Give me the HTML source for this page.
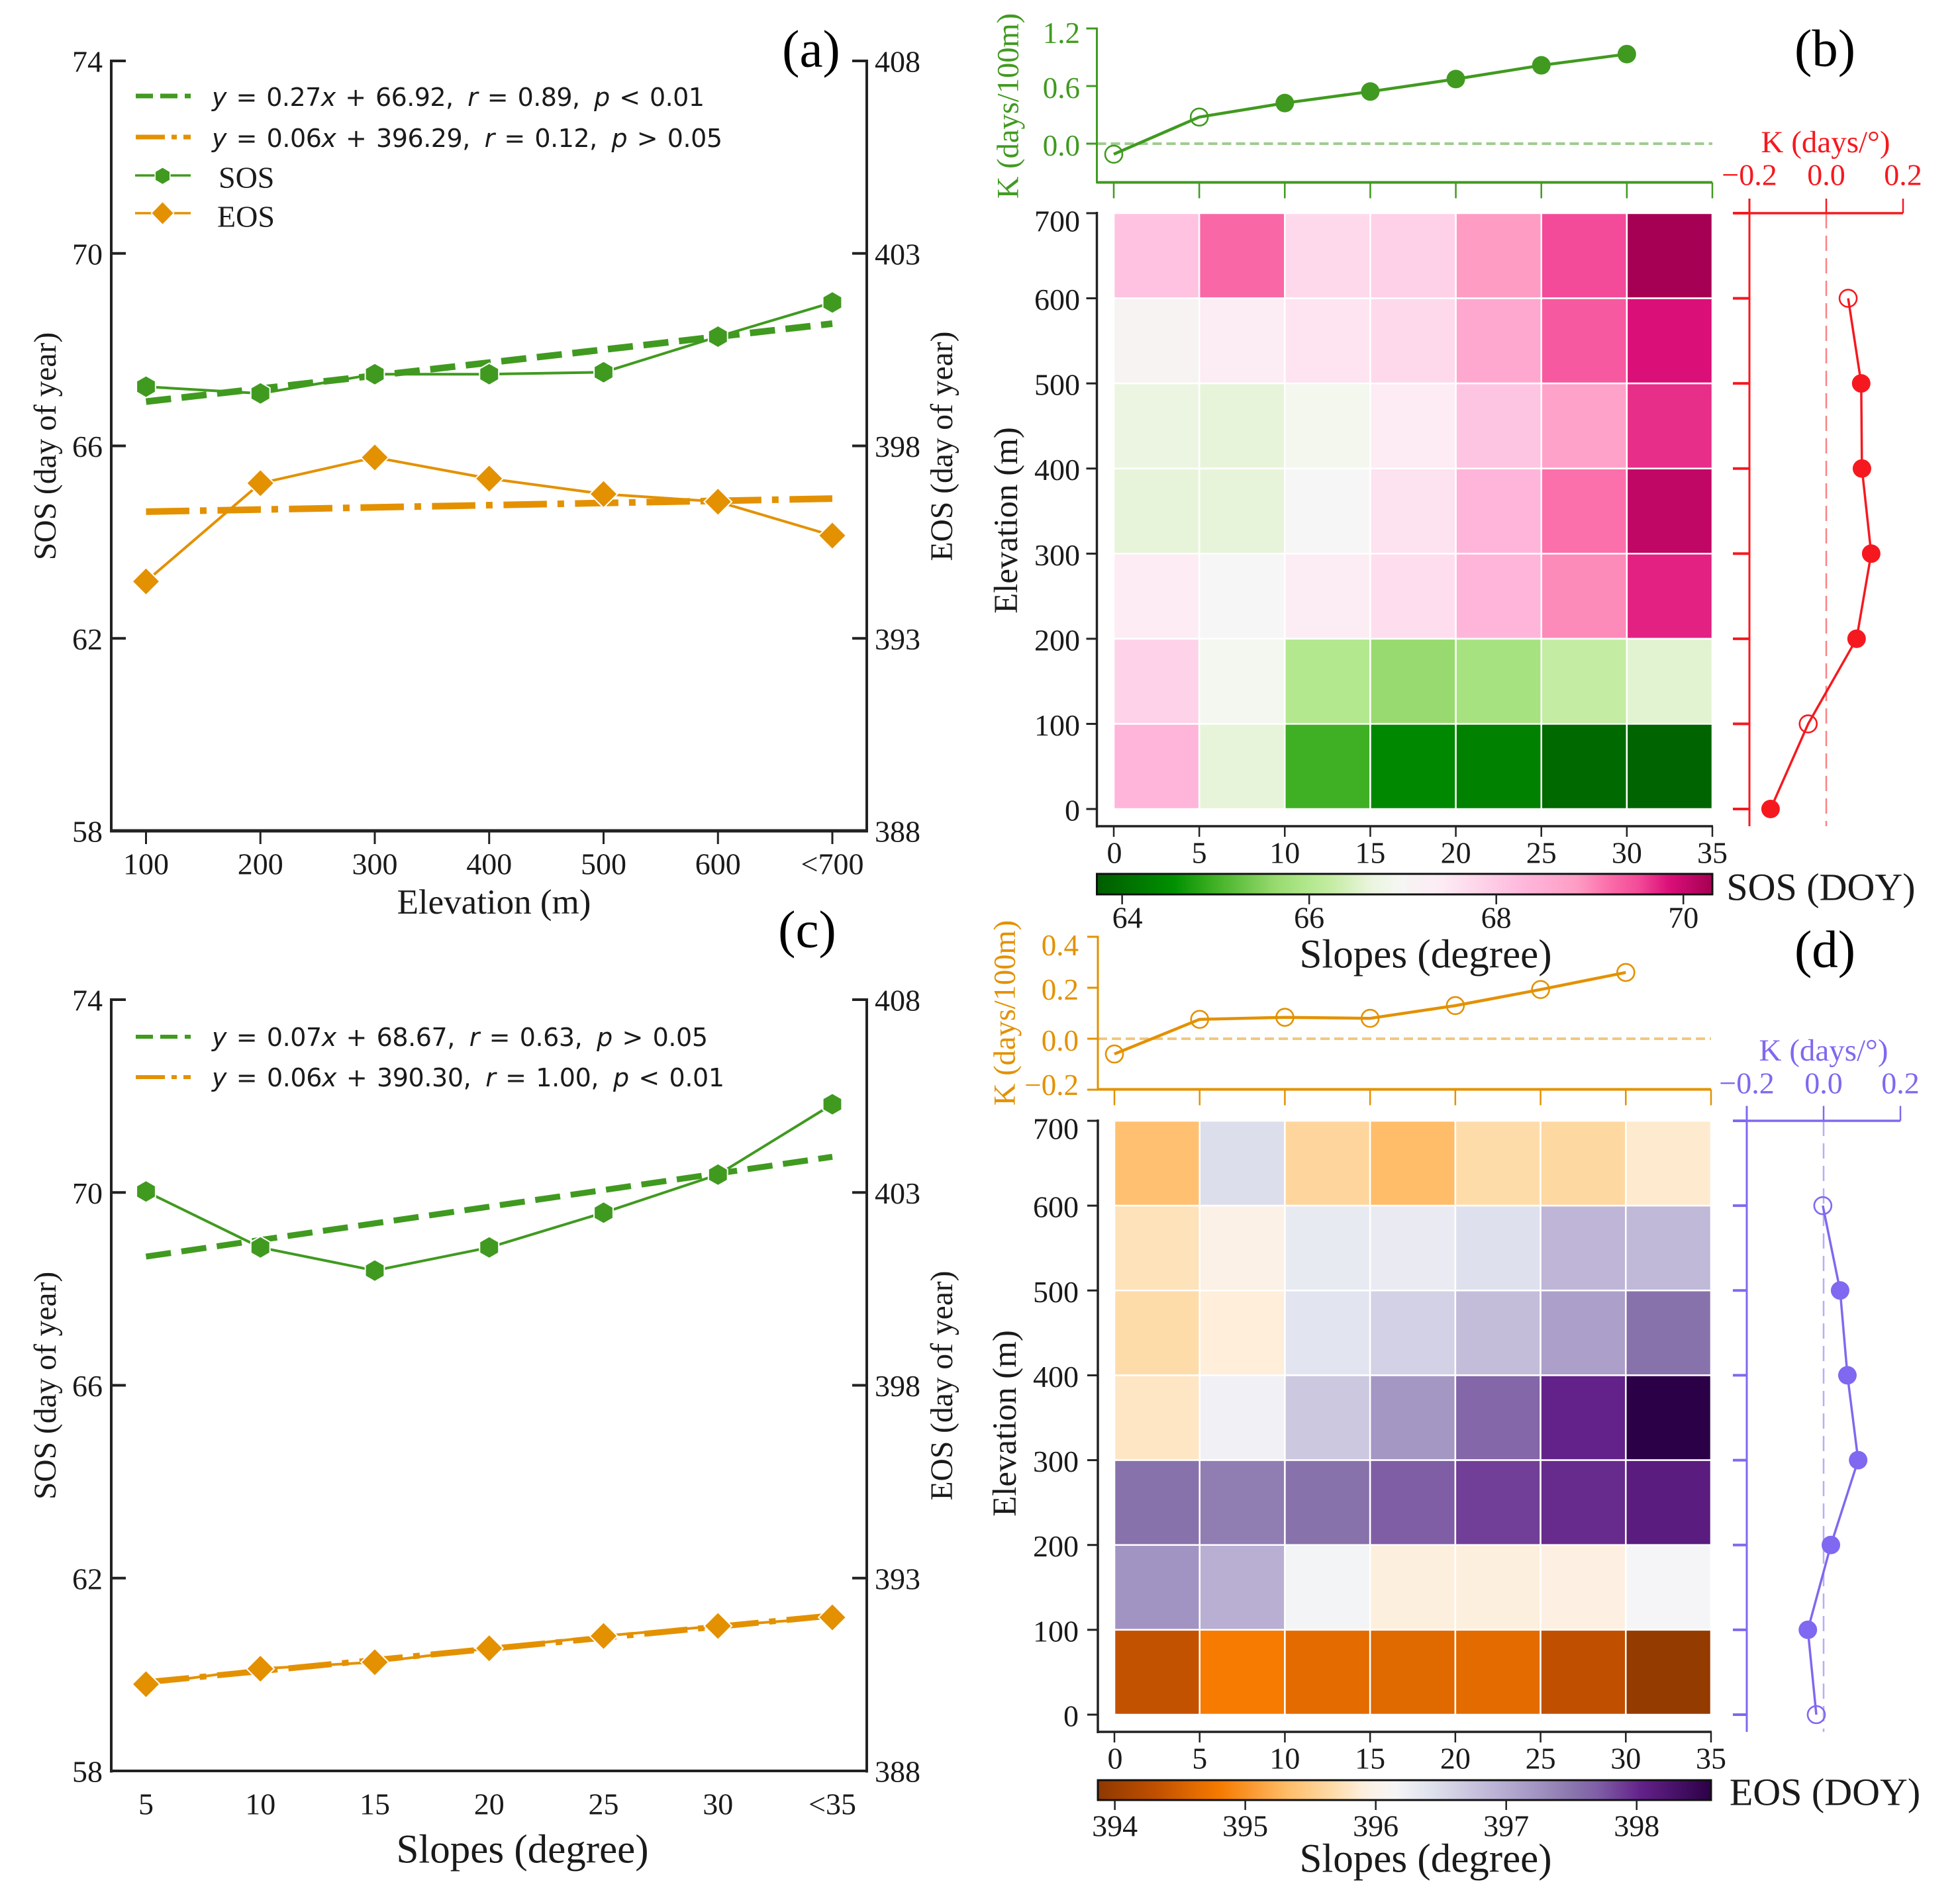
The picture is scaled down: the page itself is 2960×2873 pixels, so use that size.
<!DOCTYPE html>
<html lang="en">
<head>
<meta charset="utf-8">
<title>SOS and EOS versus elevation and slope</title>
<style>
html,body{margin:0;padding:0;background:#fff;}
svg{display:block;}
text{font-family:"Liberation Serif",serif;fill:#1a1a1a;}
.math{font-family:"DejaVu Sans",sans-serif;font-size:38px;word-spacing:3px;}
.it{font-style:italic;}
</style>
</head>
<body>
<svg id="chart" xmlns="http://www.w3.org/2000/svg" width="2960" height="2873" viewBox="0 0 2960 2873">
<defs id="defs"></defs>
<rect x="0" y="0" width="2960" height="2873" fill="#ffffff"/>

<text x="1225" y="75" font-size="79" text-anchor="middle" dominant-baseline="central" style="fill:#000">(a)</text>
<text x="2756" y="74" font-size="79" text-anchor="middle" dominant-baseline="central" style="fill:#000">(b)</text>
<text x="1219" y="1405" font-size="79" text-anchor="middle" dominant-baseline="central" style="fill:#000">(c)</text>
<text x="2756" y="1435" font-size="79" text-anchor="middle" dominant-baseline="central" style="fill:#000">(d)</text>

<text x="746" y="1363" font-size="53" text-anchor="middle" dominant-baseline="central">Elevation (m)</text>
<text x="69" y="674" font-size="47.5" text-anchor="middle" dominant-baseline="central" transform="rotate(-90 69 674)">SOS (day of year)</text>
<text x="1423" y="674" font-size="47.5" text-anchor="middle" dominant-baseline="central" transform="rotate(-90 1423 674)">EOS (day of year)</text>
<text x="789" y="2794" font-size="61" text-anchor="middle" dominant-baseline="central">Slopes (degree)</text>
<text x="69" y="2093" font-size="47.5" text-anchor="middle" dominant-baseline="central" transform="rotate(-90 69 2093)">SOS (day of year)</text>
<text x="1423" y="2093" font-size="47.5" text-anchor="middle" dominant-baseline="central" transform="rotate(-90 1423 2093)">EOS (day of year)</text>

<g>
  <line x1="205" y1="145" x2="288" y2="145" stroke="#409a20" stroke-width="7" stroke-dasharray="26 11"/>
  <text class="math" x="320" y="160" textLength="744"><tspan class="it">y</tspan> = 0.27<tspan class="it">x</tspan> + 66.92,&#160;&#8201;<tspan class="it">r</tspan> = 0.89,&#160;&#8201;<tspan class="it">p</tspan> &lt; 0.01</text>
  <line x1="205" y1="207" x2="288" y2="207" stroke="#e39100" stroke-width="7" stroke-dasharray="44 10 8 10"/>
  <text class="math" x="320" y="222" textLength="771"><tspan class="it">y</tspan> = 0.06<tspan class="it">x</tspan> + 396.29,&#160;&#8201;<tspan class="it">r</tspan> = 0.12,&#160;&#8201;<tspan class="it">p</tspan> &gt; 0.05</text>
  <line x1="204" y1="265" x2="288" y2="265" stroke="#409a20" stroke-width="3.5"/>
  <polygon points="245.5,253.5 256,259.7 256,271.7 245.5,277.9 235,271.7 235,259.7" fill="#409a20" stroke="#ffffff" stroke-width="3" paint-order="stroke"/>
  <text x="330" y="268" font-size="46" dominant-baseline="central">SOS</text>
  <line x1="204" y1="322" x2="288" y2="322" stroke="#e39100" stroke-width="3.5"/>
  <polygon points="245.5,305.5 261.5,322 245.5,338.5 229.5,322" fill="#e39100" stroke="#ffffff" stroke-width="3" paint-order="stroke"/>
  <text x="328" y="327" font-size="46" dominant-baseline="central">EOS</text>
</g>

<g>
  <line x1="205" y1="1566" x2="288" y2="1566" stroke="#409a20" stroke-width="6" stroke-dasharray="26 11"/>
  <text class="math" x="320" y="1580" textLength="749"><tspan class="it">y</tspan> = 0.07<tspan class="it">x</tspan> + 68.67,&#160;&#8201;<tspan class="it">r</tspan> = 0.63,&#160;&#8201;<tspan class="it">p</tspan> &gt; 0.05</text>
  <line x1="205" y1="1627" x2="288" y2="1627" stroke="#e39100" stroke-width="6" stroke-dasharray="44 10 8 10"/>
  <text class="math" x="320" y="1641" textLength="774"><tspan class="it">y</tspan> = 0.06<tspan class="it">x</tspan> + 390.30,&#160;&#8201;<tspan class="it">r</tspan> = 1.00,&#160;&#8201;<tspan class="it">p</tspan> &lt; 0.01</text>
</g>

<text x="1523" y="160" font-size="46.5" text-anchor="middle" dominant-baseline="central" transform="rotate(-90 1523 160)" style="fill:#409a20">K (days/100m)</text>
<text x="1520" y="786" font-size="51" text-anchor="middle" dominant-baseline="central" transform="rotate(-90 1520 786)">Elevation (m)</text>
<text x="2153" y="1442" font-size="61" text-anchor="middle" dominant-baseline="central">Slopes (degree)</text>
<text x="2750" y="1340" font-size="58" text-anchor="middle" dominant-baseline="central">SOS (DOY)</text>
<text x="2757" y="215" font-size="47" text-anchor="middle" dominant-baseline="central" style="fill:#f5191f">K (days/°)</text>

<text x="1518" y="1530" font-size="46.5" text-anchor="middle" dominant-baseline="central" transform="rotate(-90 1518 1530)" style="fill:#e39100">K (days/100m)</text>
<text x="1518" y="2150" font-size="51" text-anchor="middle" dominant-baseline="central" transform="rotate(-90 1518 2150)">Elevation (m)</text>
<text x="2153" y="2808" font-size="61" text-anchor="middle" dominant-baseline="central">Slopes (degree)</text>
<text x="2756" y="2707" font-size="58" text-anchor="middle" dominant-baseline="central">EOS (DOY)</text>
<text x="2754" y="1587" font-size="47" text-anchor="middle" dominant-baseline="central" style="fill:#8068f0">K (days/°)</text>
</svg>

<script>
// ---------- Panel (a): phenology vs elevation ----------
const elevationCategories = ['100','200','300','400','500','600','<700'];
const sosByElevation = [67.23,67.09,67.49,67.49,67.53,68.27,68.98];
const eosByElevation = [394.48,397.03,397.70,397.15,396.75,396.55,395.67];
const sosElevationTrend = [66.92,68.54];
const eosElevationTrend = [396.29,396.63];

// ---------- Panel (c): phenology vs slope ----------
const slopeCategories = ['5','10','15','20','25','30','<35'];
const sosBySlope = [70.02,68.86,68.38,68.86,69.58,70.37,71.83];
const eosBySlope = [390.25,390.65,390.82,391.18,391.50,391.76,391.98];
const sosSlopeTrend = [68.67,70.74];
const eosSlopeTrend = [390.30,392.03];

// ---------- Shared tick labels ----------
const sosTicks = [74,70,66,62,58];
const eosTicks = [408,403,398,393,388];
const slopeBinTicks = [0,5,10,15,20,25,30,35];
const elevationBinTicks = [0,100,200,300,400,500,600,700];
const sideKTicks = [-0.2,0,0.2];

// ---------- Panel (b) ----------
const bTopKTicks = [1.2,0.6,0];
const bTopK = [-0.11,0.277,0.423,0.543,0.673,0.816,0.933];
const bTopSignificant = [false,false,true,true,true,true,true];
const bSideK = [-0.145,-0.047,0.079,0.117,0.093,0.091,0.057];
const bSideSignificant = [true,false,true,true,true,true,false];
const sosHeatValues = [ // rows from elevation 600-700 down to 0-100
  [68.11,69.26,67.74,67.88,68.86,69.52,70.31],
  [67.05,67.35,67.55,67.74,68.60,69.39,69.85],
  [66.72,66.63,66.89,67.41,68.07,68.73,69.68],
  [66.63,66.63,67.02,67.58,68.34,69.19,70.08],
  [67.41,67.02,67.35,67.65,68.34,68.99,69.75],
  [67.84,66.92,66.00,65.64,65.84,66.23,66.56],
  [68.34,66.63,64.98,64.42,64.32,63.93,63.86]
];
const sosColorTicks = [64,66,68,70];
const sosColorDomain = [63.73,70.31];
const sosColorStops = [
  [0,'#005c00'],[0.125,'#009000'],[0.19,'#3fb023'],[0.29,'#98da6f'],[0.345,'#b3e88e'],
  [0.38,'#c4eca3'],[0.44,'#e8f4da'],[0.485,'#f4f7f0'],[0.5,'#f6f6f6'],[0.505,'#f7f3f3'],[0.56,'#fdecf4'],[0.63,'#fed1e8'],
  [0.70,'#ffb5da'],[0.78,'#ff9cc4'],[0.84,'#fa67a6'],[0.88,'#f34b99'],[0.93,'#db0f78'],[1,'#a50053']
];

// ---------- Panel (d) ----------
const dTopKTicks = [0.4,0.2,0,-0.2];
const dTopK = [-0.06,0.076,0.084,0.08,0.13,0.193,0.26];
const dTopSignificant = [false,false,false,false,false,false,false];
const dSideK = [-0.019,-0.041,0.019,0.09,0.062,0.043,-0.002];
const dSideSignificant = [false,true,true,true,true,true,false];
const eosHeatValues = [ // rows from elevation 600-700 down to 0-100
  [395.37,396.46,395.61,395.33,395.68,395.63,395.84],
  [395.75,395.96,396.31,396.29,396.43,396.88,396.85],
  [395.68,395.89,396.38,396.60,396.81,397.11,397.54],
  [395.80,396.20,396.69,397.21,397.63,398.03,398.57],
  [397.54,397.44,397.54,397.70,397.87,397.98,398.12],
  [397.23,396.95,396.17,395.91,395.91,395.94,396.15],
  [394.34,394.81,394.62,394.60,394.62,394.32,393.92]
];
const eosColorTicks = [394,395,396,397,398];
const eosColorDomain = [393.87,398.57];
const eosColorStops = [
  [0,'#8f3800'],[0.095,'#c05000'],[0.16,'#e36b00'],[0.2,'#f67b00'],[0.31,'#ffbd69'],
  [0.385,'#fedcaa'],[0.43,'#feeeda'],[0.445,'#fcf1e6'],[0.485,'#f5f5f7'],[0.545,'#dee1ed'],[0.64,'#bfb6d7'],
  [0.71,'#a497c4'],[0.78,'#8872ab'],[0.815,'#7f5ea6'],[0.885,'#632289'],[1,'#2c0047']
];

// ---------- Helpers ----------
const NS = 'http://www.w3.org/2000/svg';
const svg = document.getElementById('chart');
const defs = document.getElementById('defs');
const INK = '#222222';
const GREEN = '#409a20';
const ORANGE = '#e39100';
const RED = '#f5191f';
const PURPLE = '#8068f0';

function make(parent, tag, attrs, txt) {
  const node = document.createElementNS(NS, tag);
  for (const k in attrs) node.setAttribute(k, attrs[k]);
  if (txt !== undefined) node.textContent = txt;
  parent.appendChild(node);
  return node;
}
function group(name) {
  const g = make(svg, 'g', {});
  
  
  return g;
}
function seg(parent, name, x1, y1, x2, y2, color, width, dash, opacity) {
  const attrs = {x1, y1, x2, y2, stroke: color, 'stroke-width': width};
  if (dash) attrs['stroke-dasharray'] = dash;
  if (opacity) attrs['stroke-opacity'] = opacity;
  const n = make(parent, 'line', attrs);
  
  
  return n;
}
function label(parent, name, x, y, txt, size, color, anchor) {
  const n = make(parent, 'text', {x, y, 'font-size': size, 'text-anchor': anchor || 'middle', 'dominant-baseline': 'central', style: 'fill:' + (color || '#1a1a1a')}, txt);
  
  
  return n;
}
function hexagon(parent, name, cx, cy, r, color) {
  const pts = [];
  for (let i = 0; i < 6; i++) {
    const a = Math.PI / 3 * i + Math.PI / 2;
    pts.push((cx + r * Math.cos(a)).toFixed(1) + ',' + (cy - r * Math.sin(a)).toFixed(1));
  }
  const n = make(parent, 'polygon', {points: pts.join(' '), fill: color, stroke: '#ffffff', 'stroke-width': 4, 'paint-order': 'stroke'});
  
  
  return n;
}
function diamond(parent, name, cx, cy, r, color) {
  const pts = [cx + ',' + (cy - r), (cx + r) + ',' + cy, cx + ',' + (cy + r), (cx - r) + ',' + cy].join(' ');
  const n = make(parent, 'polygon', {points: pts, fill: color, stroke: '#ffffff', 'stroke-width': 4, 'paint-order': 'stroke'});
  
  
  return n;
}
function polyline(parent, name, xs, ys, color, width) {
  const pts = xs.map((x, i) => x.toFixed(1) + ',' + ys[i].toFixed(1)).join(' ');
  const n = make(parent, 'polyline', {points: pts, fill: 'none', stroke: color, 'stroke-width': width, 'stroke-linejoin': 'round'});
  
  
  return n;
}
function dot(parent, name, cx, cy, color, filled) {
  const attrs = filled ? {cx, cy, r: 14, fill: color} : {cx, cy, r: 13, fill: 'none', stroke: color, 'stroke-width': 2.6};
  const n = make(parent, 'circle', attrs);
  
  
  return n;
}
function colorAt(stops, f) {
  f = Math.max(0, Math.min(1, f));
  for (let i = 1; i < stops.length; i++) {
    if (f <= stops[i][0]) {
      const t = (f - stops[i - 1][0]) / (stops[i][0] - stops[i - 1][0]);
      const a = stops[i - 1][1], b = stops[i][1];
      const ch = s => [1, 3, 5].map(p => parseInt(s.substr(p, 2), 16));
      const ca = ch(a), cb = ch(b);
      return 'rgb(' + ca.map((v, j) => Math.round(v + (cb[j] - v) * t)).join(',') + ')';
    }
  }
  return stops[stops.length - 1][1];
}

// ---------- Line panels (a) and (c) ----------
function drawLinePanel(p) {
  const g = group(p.id + '-line-panel');
  const left = 168, right = 1309, n = p.categories.length;
  const xCat = i => 220.5 + i * (1257 - 220.5) / (n - 1);
  const yLeft = v => p.top + (sosTicks[0] - v) * (p.bottom - p.top) / (sosTicks[0] - sosTicks[4]);
  const yRight = v => p.top + (eosTicks[0] - v) * (p.bottom - p.top) / (eosTicks[0] - eosTicks[4]);

  seg(g, p.id + '-left-spine', left, p.top - 2, left, p.bottom + 2.5, INK, 4);
  seg(g, p.id + '-right-spine', right, p.top - 2, right, p.bottom + 2.5, INK, 4);
  seg(g, p.id + '-bottom-spine', left - 2, p.bottom, right + 2, p.bottom, INK, p.bottomWidth);

  sosTicks.forEach(v => {
    seg(g, p.id + '-left-tick-' + v, left, yLeft(v), left + 22, yLeft(v), INK, 4);
    label(g, p.id + '-left-tick-label-' + v, 155, yLeft(v) + 1, String(v), 46, null, 'end');
  });
  eosTicks.forEach(v => {
    seg(g, p.id + '-right-tick-' + v, right - 22, yRight(v), right, yRight(v), INK, 4);
    label(g, p.id + '-right-tick-label-' + v, 1321, yRight(v) + 1, String(v), 46, null, 'start');
  });
  p.categories.forEach((c, i) => {
    if (p.xTicks) seg(g, p.id + '-x-tick-' + c, xCat(i), p.bottom, xCat(i), p.bottom + 20, INK, 3);
    label(g, p.id + '-x-tick-label-' + c, xCat(i), p.bottom + 50, c, 46);
  });

  const xs = p.categories.map((c, i) => xCat(i));
  const ySos = p.sos.map(yLeft), yEos = p.eos.map(yRight);

  polyline(g, p.id + '-sos-line', xs, ySos, GREEN, 4);
  polyline(g, p.id + '-eos-line', xs, yEos, ORANGE, 4);

  seg(g, p.id + '-sos-trend-line', xCat(0), yLeft(p.sosTrend[0]), xCat(n - 1), yLeft(p.sosTrend[1]), GREEN, p.trendWidth, '38 16');
  seg(g, p.id + '-eos-trend-line', xCat(0), yRight(p.eosTrend[0]), xCat(n - 1), yRight(p.eosTrend[1]), ORANGE, p.trendWidth, '65.5 16 10 16.5');

  p.categories.forEach((c, i) => {
    hexagon(g, p.id + '-sos-point-' + c, xs[i], ySos[i], 15.5, GREEN);
    diamond(g, p.id + '-eos-point-' + c, xs[i], yEos[i], 19.5, ORANGE);
  });
}
drawLinePanel({id: 'a', top: 92, bottom: 1255, bottomWidth: 5, xTicks: true, trendWidth: 10, categories: elevationCategories, sos: sosByElevation, eos: eosByElevation, sosTrend: sosElevationTrend, eosTrend: eosElevationTrend});
drawLinePanel({id: 'c', top: 1510, bottom: 2675, bottomWidth: 4, xTicks: false, trendWidth: 9, categories: slopeCategories, sos: sosBySlope, eos: eosBySlope, sosTrend: sosSlopeTrend, eosTrend: eosSlopeTrend});

// ---------- Heatmap panels (b) and (d) ----------
function drawHeatPanel(p) {
  const g = group(p.id + '-heatmap-panel');
  const x0 = p.x0, x35 = p.x35;
  const xS = v => x0 + (v - slopeBinTicks[0]) * (x35 - x0) / (slopeBinTicks[7] - slopeBinTicks[0]);
  const yE = v => p.yZero + (v - elevationBinTicks[0]) * (p.ySeven - p.yZero) / (elevationBinTicks[7] - elevationBinTicks[0]);

  // top K line plot
  const yT = v => p.topZeroY - v * p.topScale;
  seg(g, p.id + '-top-left-spine', p.spine, p.topTickY - 1.5, p.spine, p.topBottom + 1.5, p.topColor, 3);
  seg(g, p.id + '-top-bottom-spine', p.spine, p.topBottom, x35, p.topBottom, p.topColor, 4);
  seg(g, p.id + '-top-zero-line', p.spine, yT(0), x35, yT(0), p.topColor, 4, '14 7', 0.5);
  p.topTicks.forEach((v, i) => {
    const txt = (v < 0 ? '\u2212' : '') + Math.abs(v).toFixed(1);
    const off = (v === p.topTicks[0]) ? p.topFirstOffset : (v < 0 ? -7 : 3);
    seg(g, p.id + '-top-y-tick-' + v, p.spine - 16, yT(v), p.spine, yT(v), p.topColor, 3);
    label(g, p.id + '-top-y-tick-label-' + v, p.labelRight, yT(v) + off, txt, 45, p.topColor, 'end');
  });
  slopeBinTicks.forEach(v => {
    seg(g, p.id + '-top-x-tick-' + v, xS(v), p.topBottom, xS(v), p.topBottom + 24, p.topColor, 2.5);
  });
  const topXs = p.topK.map((k, i) => xS(slopeBinTicks[i]));
  polyline(g, p.id + '-top-k-line', topXs, p.topK.map(yT), p.topColor, 4.5);
  p.topK.forEach((k, i) => {
    dot(g, p.id + '-top-k-point-' + slopeBinTicks[i], topXs[i], yT(k), p.topColor, p.topSig[i]);
  });

  // heat cells
  const f = v => (v - p.domain[0]) / (p.domain[1] - p.domain[0]);
  p.values.forEach((row, r) => {
    const yTopVal = elevationBinTicks[7 - r], yBotVal = elevationBinTicks[6 - r];
    row.forEach((v, c) => {
      const cell = make(g, 'rect', {
        x: xS(slopeBinTicks[c]), y: yE(yTopVal),
        width: xS(slopeBinTicks[c + 1]) - xS(slopeBinTicks[c]),
        height: yE(yBotVal) - yE(yTopVal),
        fill: colorAt(p.stops, f(v)), stroke: '#ffffff', 'stroke-width': 2.5
      });
      
      
    });
  });

  // heat axes
  seg(g, p.id + '-heat-left-spine', p.spine, yE(700) - 2, p.spine, p.heatBottom + 2, INK, 3.5);
  seg(g, p.id + '-heat-bottom-spine', p.spine, p.heatBottom, x35 + 1, p.heatBottom, INK, 3.5);
  elevationBinTicks.forEach(v => {
    seg(g, p.id + '-heat-y-tick-' + v, p.spine - 16, yE(v), p.spine, yE(v), INK, 3);
    label(g, p.id + '-heat-y-tick-label-' + v, p.labelRight, yE(v) + (v === 700 ? 12 : 2), String(v), 46, null, 'end');
  });
  slopeBinTicks.forEach(v => {
    seg(g, p.id + '-heat-x-tick-' + v, xS(v), p.heatBottom, xS(v), p.heatBottom + 16, INK, 2.5);
    label(g, p.id + '-heat-x-tick-label-' + v, xS(v) + (v === 0 ? 1 : 0), p.heatBottom + 40, String(v), 46);
  });

  // colorbar
  const gradId = p.id + '-gradient';
  const grad = make(defs, 'linearGradient', {id: gradId, x1: 0, x2: 1, y1: 0, y2: 0});
  p.stops.forEach(s => make(grad, 'stop', {offset: s[0], 'stop-color': s[1]}));
  const bar = make(g, 'rect', {x: p.spine, y: p.barTop, width: x35 - p.spine, height: p.barBottom - p.barTop, fill: 'url(#' + gradId + ')', stroke: '#111111', 'stroke-width': 3});
  
  
  const xC = v => p.spine + f(v) * (x35 - p.spine);
  p.colorTicks.forEach((v, i) => {
    seg(g, p.id + '-colorbar-tick-' + v, xC(v), p.barBottom, xC(v), p.barBottom + 15, INK, 2.5);
    label(g, p.id + '-colorbar-tick-label-' + v, xC(v) + (p.id === 'b' && i === 0 ? 8 : 0), p.barLabelY, String(v), 46);
  });

  // side K profile
  const xK = v => p.sideZero + v * p.sideScale;
  seg(g, p.id + '-side-vertical-spine', xK(-0.2), p.sideTop, xK(-0.2), p.heatBottom, p.sideColor, 3);
  seg(g, p.id + '-side-top-spine', p.sideLeft, yE(700), xK(0.2), yE(700), p.sideColor, 3.5);
  seg(g, p.id + '-side-zero-line', xK(0), yE(700), xK(0), p.heatBottom, p.sideColor, 2.5, '23 11', 0.55);
  sideKTicks.forEach(v => {
    const txt = (v < 0 ? '\u2212' : '') + Math.abs(v).toFixed(1);
    seg(g, p.id + '-side-x-tick-' + v, xK(v), p.sideTop, xK(v), yE(700), p.sideColor, 2.5);
    label(g, p.id + '-side-x-tick-label-' + v, xK(v), p.sideLabelY, txt, 46, p.sideColor);
  });
  elevationBinTicks.forEach(v => {
    seg(g, p.id + '-side-y-tick-' + v, p.sideLeft, yE(v), xK(-0.2), yE(v), p.sideColor, 4);
  });
  const sideXs = p.sideK.map(xK);
  const sideYs = p.sideK.map((k, i) => yE(elevationBinTicks[i]));
  polyline(g, p.id + '-side-k-line', sideXs, sideYs, p.sideColor, 3.5);
  p.sideK.forEach((k, i) => {
    dot(g, p.id + '-side-k-point-' + elevationBinTicks[i], sideXs[i], sideYs[i], p.sideColor, p.sideSig[i]);
  });
}

drawHeatPanel({
  id: 'b', x0: 1682, x35: 2586, spine: 1656.5, labelRight: 1631, yZero: 1222, ySeven: 322, heatBottom: 1248,
  topColor: GREEN, topTicks: bTopKTicks, topK: bTopK, topSig: bTopSignificant, topZeroY: 217, topScale: 145, topTickY: 43, topBottom: 275.5, topFirstOffset: 7,
  values: sosHeatValues, stops: sosColorStops, domain: sosColorDomain, colorTicks: sosColorTicks,
  barTop: 1320, barBottom: 1351, barLabelY: 1386,
  sideColor: RED, sideK: bSideK, sideSig: bSideSignificant, sideZero: 2758, sideScale: 580, sideTop: 300, sideLeft: 2617, sideLabelY: 264
});
drawHeatPanel({
  id: 'd', x0: 1683, x35: 2584, spine: 1658, labelRight: 1629, yZero: 2590, ySeven: 1693, heatBottom: 2616,
  topColor: ORANGE, topTicks: dTopKTicks, topK: dTopK, topSig: dTopSignificant, topZeroY: 1569, topScale: 385, topTickY: 1415, topBottom: 1645.5, topFirstOffset: 13,
  values: eosHeatValues, stops: eosColorStops, domain: eosColorDomain, colorTicks: eosColorTicks,
  barTop: 2689, barBottom: 2719, barLabelY: 2758,
  sideColor: PURPLE, sideK: dSideK, sideSig: dSideSignificant, sideZero: 2754, sideScale: 580, sideTop: 1670.5, sideLeft: 2617, sideLabelY: 1636
});
</script>
</body>
</html>
